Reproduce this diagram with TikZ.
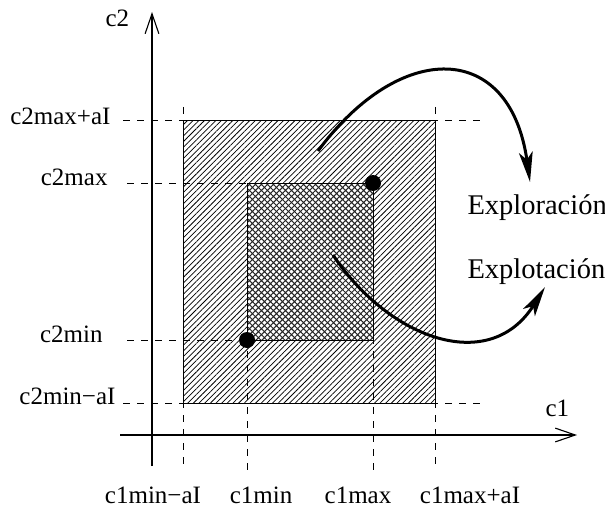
\documentclass[tikz,border=0pt]{standalone}
\usepackage{fontspec}
\setmainfont{Liberation Serif}
\usepackage{tikz}
\usetikzlibrary{arrows.meta,patterns.meta}

\begin{document}
\begin{tikzpicture}[
  x=0.4pt,y=-0.4pt,
  lbl/.style={inner sep=0pt,font=\fontsize{10}{12}\selectfont},
  big/.style={inner sep=0pt,font=\fontsize{11.4}{13}\selectfont},
  axis/.style={-{Straight Barb[length=8pt,width=5.5pt]},line width=0.45pt},
  guide/.style={dash pattern=on 2.8pt off 2.8pt,line width=0.4pt},
  arr/.style={-{Stealth[length=12pt,width=5.5pt,inset=3pt]},line width=1.2pt},
  dot/.style={circle,fill=black,inner sep=0pt,minimum size=6.4pt}
]
\useasboundingbox (0,0) rectangle (605,506);
% corners of the two regions
\coordinate (oa) at (183,120); \coordinate (ob) at (435,403);
\coordinate (ia) at (247,183); \coordinate (ib) at (373,340);
% regions
\fill[pattern={Lines[angle=45,distance=1.6pt,line width=0.3pt]}] (oa) rectangle (ob);
\draw[line width=0.3pt] (oa) rectangle (ob);
\draw[line width=0.4pt,preaction={fill=white},
  pattern={Hatch[angle=45,distance=1.7pt,line width=0.4pt]},pattern color=black!85] (ia) rectangle (ib);
% axes
\coordinate (x0) at (120,435); \coordinate (x1) at (577,435);
\coordinate (y0) at (152,466); \coordinate (y1) at (152,12);
\draw[axis] (x0) -- (x1);
\draw[axis] (y0) -- (y1);
\node[lbl,anchor=base west] (c2) at (105,27) {c2};
\node[lbl,anchor=base west] (c1) at (545,416) {c1};
% guides
\coordinate (h1a) at (123,120); \coordinate (h1b) at (483,120);
\coordinate (h2a) at (127,183);
\coordinate (h3a) at (127,340);
\coordinate (h4a) at (123,403); \coordinate (h4b) at (483,403);
\coordinate (v1a) at (183,107); \coordinate (v1b) at (183,470);
\coordinate (v2b) at (247,470);
\coordinate (v3b) at (373,470);
\coordinate (v4a) at (435,107); \coordinate (v4b) at (435,470);
\draw[guide] (h1a) -- (h1b);
\draw[guide] (h2a) -- (ia);
\draw[guide] (h3a) -- (ia |- ib);
\draw[guide] (h4a) -- (h4b);
\draw[guide] (v1a) -- (v1b);
\draw[guide] (ia) -- (v2b);
\draw[guide] (ib |- ia) -- (v3b);
\draw[guide] (v4a) -- (v4b);
% labels on the axes
\node[lbl,anchor=base east] (c2maxai) at (111,124) {c2max+aI};
\node[lbl,anchor=base east] (c2max) at (108,185) {c2max};
\node[lbl,anchor=base east] (c2min) at (103,342) {c2min};
\node[lbl,anchor=base east] (c2minai) at (116,404) {c2min−aI};
\node[lbl,anchor=base] (c1minai) at (153,503) {c1min−aI};
\node[lbl,anchor=base] (c1min) at (261,503) {c1min};
\node[lbl,anchor=base] (c1max) at (358,503) {c1max};
\node[lbl,anchor=base] (c1maxai) at (470,503) {c1max+aI};
% points
\node[dot] (pmax) at (373,183) {};
\node[dot] (pmin) at (247,340) {};
% moves
\node[big,anchor=base west] (explor) at (467,214) {Exploración};
\node[big,anchor=base west] (explot) at (467,278) {Explotación};
\coordinate (s1) at (318,151); \coordinate (t1) at (530,182);
\coordinate (s2) at (333,255); \coordinate (t2) at (545,287);
\draw[arr] (s1) .. controls (400,40) and (510,40) .. (t1);
\draw[arr] (s2) .. controls (390,340) and (490,375) .. (t2);
\end{tikzpicture}
\end{document}
